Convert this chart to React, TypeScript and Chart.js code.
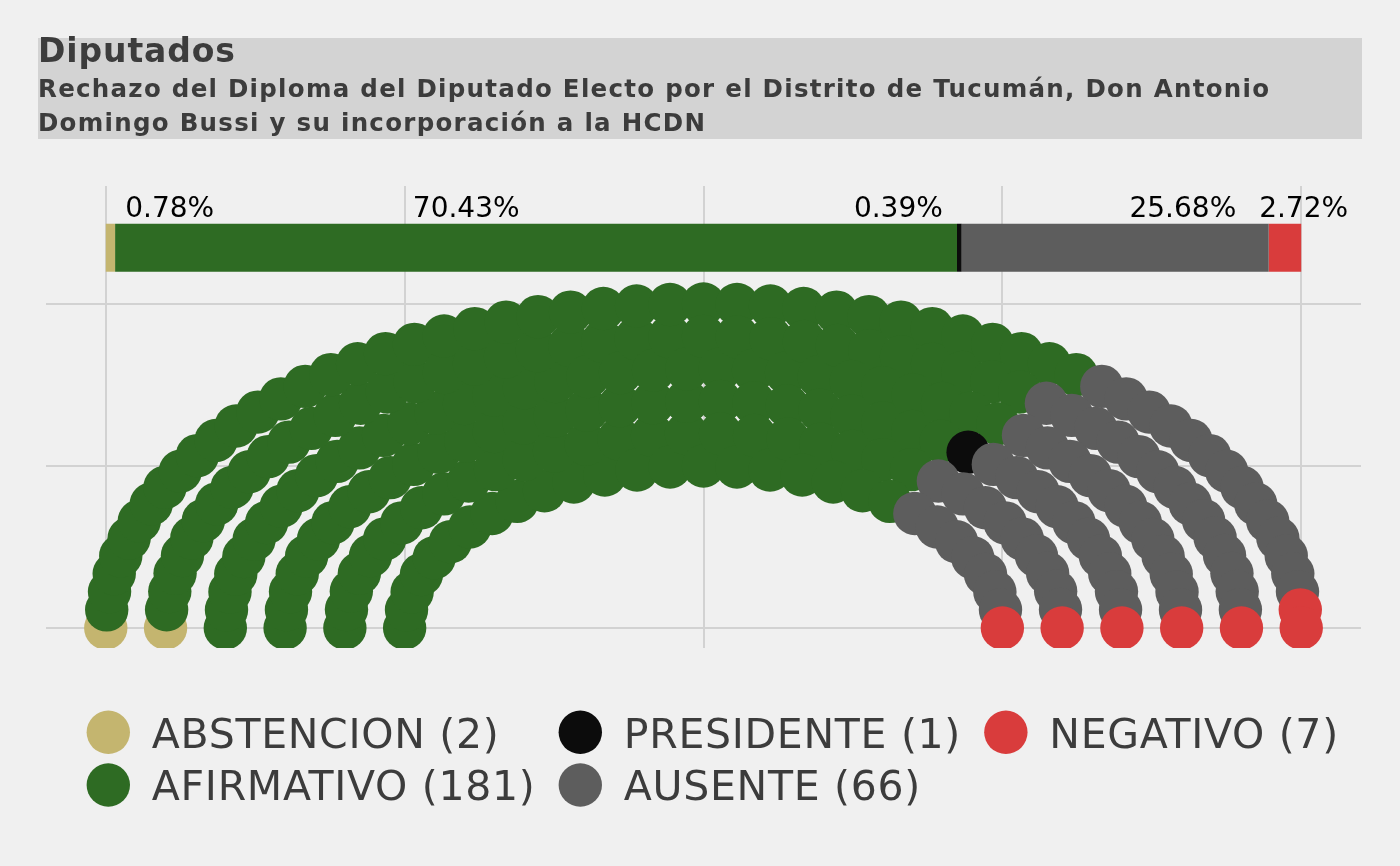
import React, { useEffect, useRef } from "react";
import { Chart, registerables } from "chart.js";

Chart.register(...registerables);

// ---- Data ----
const TITLE = "Diputados";
const SUBTITLE_LINES = [
  "Rechazo del Diploma del Diputado Electo por el Distrito de Tucumán, Don Antonio",
  "Domingo Bussi y su incorporación a la HCDN",
];
const parties = ["ABSTENCION", "AFIRMATIVO", "PRESIDENTE", "AUSENTE", "NEGATIVO"];
const seats = [2, 181, 1, 66, 7];
const partyColors = ["#c4b56f", "#2e6b23", "#0c0c0c", "#5d5d5d", "#d93c3c"];
// x anchor (centre) of each percentage label, in axis units
const pctLabelX = [-0.893, -0.397, 0.326, 0.802, 1.004];
const xTicks = [-1, -0.5, 0, 0.5, 1];
const yTicks = [0, 0.5, 1];
const PARL_ROWS = 6;

// ---- Styling constants ----
const BG = "#f0f0f0";
const GRID = "#d2d2d2";
const TEXT = "#3c3c3c";
const BAR_Y = 1.1735;
const PCT_Y = 1.2695;
const SEAT_R = 21.7;
const FONT = '"DejaVu Sans", sans-serif';

type Seat = { x: number; y: number; theta: number; r: number };

function parliamentLayout(total: number, rows: number): Seat[] {
  const radii = Array.from({ length: rows }, (_, i) => 1 + i / (rows - 1));
  const sumR = radii.reduce((a, b) => a + b, 0);
  const counts = radii.map((r) => Math.round((total * r) / sumR));
  const diff = counts.reduce((a, b) => a + b, 0) - total;
  counts[rows - 1] -= diff;
  const pts: Seat[] = [];
  radii.forEach((r, i) => {
    const n = counts[i];
    for (let k = 0; k < n; k++) {
      const theta = k === n - 1 ? Math.PI : (k * Math.PI) / (n - 1);
      pts.push({ x: (r / 2) * Math.cos(theta), y: (r / 2) * Math.sin(theta), theta, r });
    }
  });
  pts.sort((a, b) => b.theta - a.theta || b.r - a.r);
  return pts;
}

function spacingFor(ctx: any, text: string, target: number): number {
  ctx.letterSpacing = "0px";
  const w0 = ctx.measureText(text).width;
  return (target - w0) / Math.max(1, text.length - 1);
}

export default function App() {
  const ref = useRef<HTMLCanvasElement | null>(null);

  useEffect(() => {
    document.body.style.margin = "0";
    document.body.style.background = BG;
    const canvas = ref.current;
    if (!canvas) return;

    const total = seats.reduce((a, b) => a + b, 0);
    const layout = parliamentLayout(total, PARL_ROWS);

    const seatDatasets: any[] = [];
    let idx = 0;
    parties.forEach((p, i) => {
      const pts = layout.slice(idx, idx + seats[i]).map((s) => ({ x: s.x, y: s.y }));
      idx += seats[i];
      seatDatasets.push({
        type: "scatter",
        label: p,
        data: pts,
        backgroundColor: partyColors[i],
        borderWidth: 0,
        pointRadius: SEAT_R,
        pointHoverRadius: SEAT_R,
        order: 10 - i,
      });
    });

    const barDatasets: any[] = [];
    let cum = 0;
    const pctTexts: string[] = [];
    parties.forEach((p, i) => {
      const start = -1 + (2 * cum) / total;
      cum += seats[i];
      const end = -1 + (2 * cum) / total;
      pctTexts.push(((seats[i] / total) * 100).toFixed(2) + "%");
      barDatasets.push({
        type: "bar",
        label: p + " bar",
        indexAxis: "y",
        grouped: false,
        data: [{ x: [start, end], y: BAR_Y }],
        backgroundColor: partyColors[i],
        borderWidth: 0,
        maxBarThickness: 48,
        order: 30,
      });
    });

    const bgPlugin = {
      id: "bgPlugin",
      beforeDraw(chart: any) {
        const ctx = chart.ctx;
        ctx.save();
        ctx.fillStyle = BG;
        ctx.fillRect(0, 0, chart.width, chart.height);
        // title box
        ctx.fillStyle = "#d3d3d3";
        ctx.fillRect(38, 38, 1324, 101);
        ctx.fillStyle = TEXT;
        ctx.textBaseline = "alphabetic";
        ctx.textAlign = "left";
        ctx.font = `bold 33px ${FONT}`;
        const ts = spacingFor(ctx, TITLE, 197);
        ctx.letterSpacing = ts + "px";
        ctx.fillText(TITLE, 38, 62);
        ctx.font = `bold 24.5px ${FONT}`;
        const ss = spacingFor(ctx, SUBTITLE_LINES[0], 1231);
        ctx.letterSpacing = ss + "px";
        ctx.fillText(SUBTITLE_LINES[0], 38, 97);
        ctx.fillText(SUBTITLE_LINES[1], 38, 130.5);
        ctx.letterSpacing = "0px";
        ctx.restore();
      },
    };

    const labelPlugin = {
      id: "labelPlugin",
      afterDatasetsDraw(chart: any) {
        const ctx = chart.ctx;
        const xs = chart.scales.x;
        const ys = chart.scales.y;
        ctx.save();
        ctx.fillStyle = "#000000";
        ctx.font = `28px ${FONT}`;
        ctx.textAlign = "center";
        ctx.textBaseline = "alphabetic";
        pctTexts.forEach((t, i) => {
          ctx.fillText(t, xs.getPixelForValue(pctLabelX[i]), ys.getPixelForValue(PCT_Y));
        });
        ctx.restore();
      },
    };

    const legendPlugin = {
      id: "customLegend",
      afterDraw(chart: any) {
        const ctx = chart.ctx;
        ctx.save();
        const fs = 41;
        ctx.font = `${fs}px ${FONT}`;
        const labels = parties.map((p, i) => `${p} (${seats[i]})`);
        const ls = spacingFor(ctx, labels[0], 347);
        const widthOf = (t: string) => {
          ctx.letterSpacing = "0px";
          const m = ctx.measureText(t).width;
          return m + ls * (t.length - 1);
        };
        const nrow = 2;
        const ncol = Math.ceil(labels.length / nrow);
        const keyToText = 43.5;
        const colGap = 45.5;
        const colW: number[] = [];
        for (let c = 0; c < ncol; c++) {
          let w = 0;
          for (let r = 0; r < nrow; r++) {
            const i = c * nrow + r;
            if (i < labels.length) w = Math.max(w, widthOf(labels[i]));
          }
          colW.push(w);
        }
        ctx.letterSpacing = ls + "px";
        let cx = 108.3;
        const rowY = [732.3, 785];
        for (let c = 0; c < ncol; c++) {
          for (let r = 0; r < nrow; r++) {
            const i = c * nrow + r;
            if (i >= labels.length) continue;
            const cy = rowY[r];
            ctx.fillStyle = partyColors[i];
            ctx.beginPath();
            ctx.arc(cx, cy, SEAT_R, 0, Math.PI * 2);
            ctx.fill();
            ctx.fillStyle = TEXT;
            ctx.textAlign = "left";
            ctx.textBaseline = "alphabetic";
            ctx.fillText(labels[i], cx + keyToText, cy + 15.2);
          }
          cx += keyToText + colW[c] + colGap;
        }
        ctx.letterSpacing = "0px";
        ctx.restore();
      },
    };

    const chart = new Chart(canvas, {
      type: "scatter",
      data: { datasets: [...seatDatasets, ...barDatasets] as any },
      options: {
        responsive: false,
        animation: false,
        devicePixelRatio: 1,
        layout: { padding: { left: 46, right: 39, top: 186, bottom: 218 } },
        plugins: {
          legend: { display: false },
          tooltip: { enabled: false },
          title: { display: false },
        },
        scales: {
          x: {
            type: "linear",
            min: -1.1,
            max: 1.1,
            offset: false,
            afterBuildTicks: (s: any) => {
              s.ticks = xTicks.map((v) => ({ value: v }));
            },
            ticks: { display: false },
            grid: { color: GRID, lineWidth: 2, drawTicks: false, offset: false },
            border: { display: false },
          },
          y: {
            type: "linear",
            min: -0.0617,
            max: 1.364,
            offset: false,
            afterBuildTicks: (s: any) => {
              s.ticks = yTicks.map((v) => ({ value: v }));
            },
            ticks: { display: false },
            grid: { color: GRID, lineWidth: 2, drawTicks: false, offset: false },
            border: { display: false },
          },
        },
      } as any,
      plugins: [bgPlugin, labelPlugin, legendPlugin],
    });

    return () => chart.destroy();
  }, []);

  return (
    <div style={{ width: 1400, height: 866, background: BG }}>
      <canvas ref={ref} width={1400} height={866} style={{ display: "block" }} />
    </div>
  );
}
